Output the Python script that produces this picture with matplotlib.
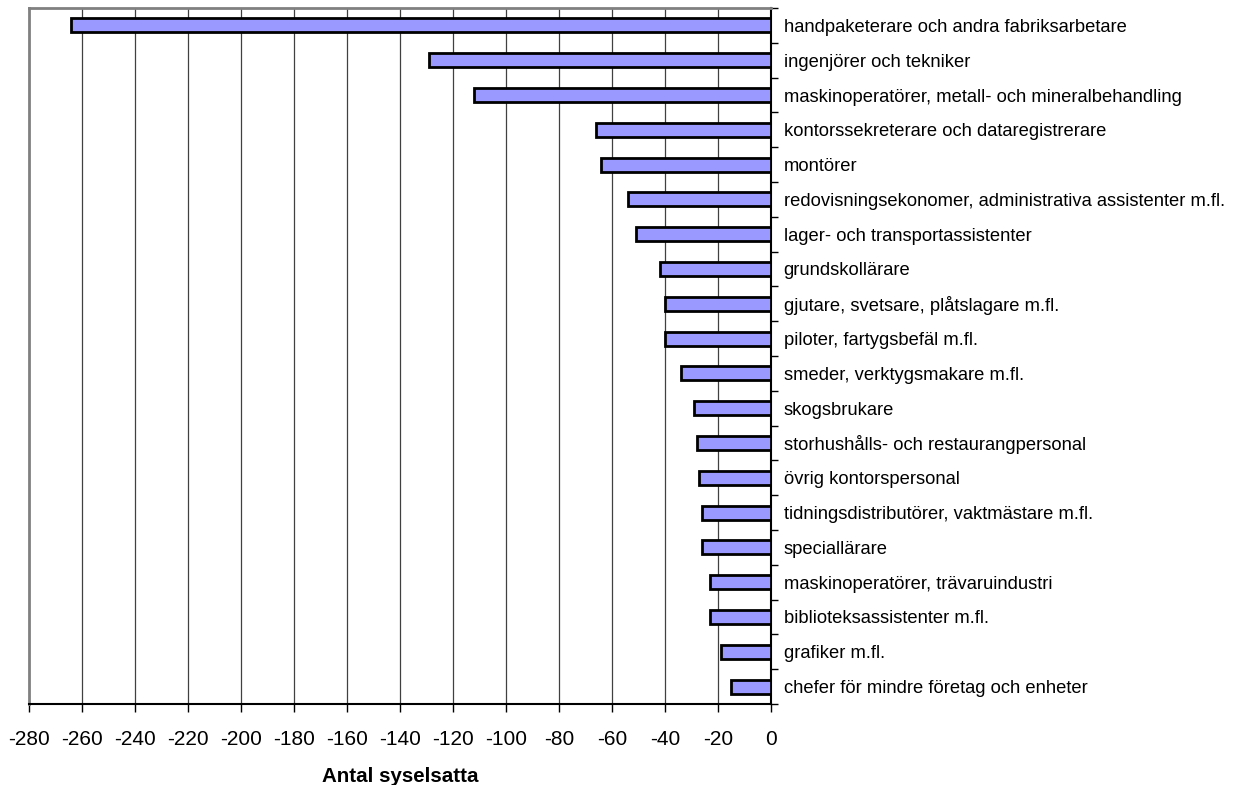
import numpy as np
import matplotlib
matplotlib.use("Agg")
import matplotlib.pyplot as plt
from matplotlib.ticker import FixedLocator

plt.rcParams['font.family'] = ['Liberation Sans', 'DejaVu Sans']

yrken = [
    "handpaketerare och andra fabriksarbetare",
    "ingenjörer och tekniker",
    "maskinoperatörer, metall- och mineralbehandling",
    "kontorssekreterare och dataregistrerare",
    "montörer",
    "redovisningsekonomer, administrativa assistenter m.fl.",
    "lager- och transportassistenter",
    "grundskollärare",
    "gjutare, svetsare, plåtslagare m.fl.",
    "piloter, fartygsbefäl m.fl.",
    "smeder, verktygsmakare m.fl.",
    "skogsbrukare",
    "storhushålls- och restaurangpersonal",
    "övrig kontorspersonal",
    "tidningsdistributörer, vaktmästare m.fl.",
    "speciallärare",
    "maskinoperatörer, trävaruindustri",
    "biblioteksassistenter m.fl.",
    "grafiker m.fl.",
    "chefer för mindre företag och enheter",
]
antal = [-264, -129, -112, -66, -64, -54, -51, -42, -40, -40,
         -34, -29, -28, -27, -26, -26, -23, -23, -19, -15]
xticks = list(range(-280, 1, 20))

fig = plt.figure(figsize=(12.44, 7.85), dpi=100)
ax = fig.add_axes([0.0233, 0.1032, 0.5965, 0.8866])

pos = np.arange(len(yrken))
ax.barh(pos, antal, height=0.4, color='#9999FF', edgecolor='black',
        linewidth=2, zorder=3)

ax.set_xlim(-280, 0)
ax.set_ylim(len(yrken) - 0.5, -0.5)

# grid
for x in xticks[1:-1]:
    ax.axvline(x, color='#404040', linewidth=0.9, zorder=1)

ax.yaxis.tick_right()
ax.set_yticks(pos)
ax.set_yticklabels(yrken, fontsize=13.2)
ax.tick_params(axis='y', which='major', length=0, pad=9)
ax.yaxis.set_minor_locator(FixedLocator(np.arange(-0.5, len(yrken), 1.0)))
ax.tick_params(axis='y', which='minor', right=True, left=False,
               direction='out', length=5, width=1, color='black')

ax.set_xticks(xticks)
ax.set_xticklabels([str(t) for t in xticks], fontsize=15)
ax.tick_params(axis='x', direction='out', length=6, width=1, pad=13)
ax.set_xlabel("Antal syselsatta", fontsize=14.8, fontweight='bold')
ax.xaxis.set_label_coords(0.5, -0.09)

ax.spines['top'].set_color('#808080')
ax.spines['left'].set_color('#808080')
ax.spines['top'].set_linewidth(2)
ax.spines['left'].set_linewidth(2)
ax.spines['bottom'].set_linewidth(1.5)
ax.spines['right'].set_linewidth(1.5)

fig.savefig("out.png", dpi=100)
